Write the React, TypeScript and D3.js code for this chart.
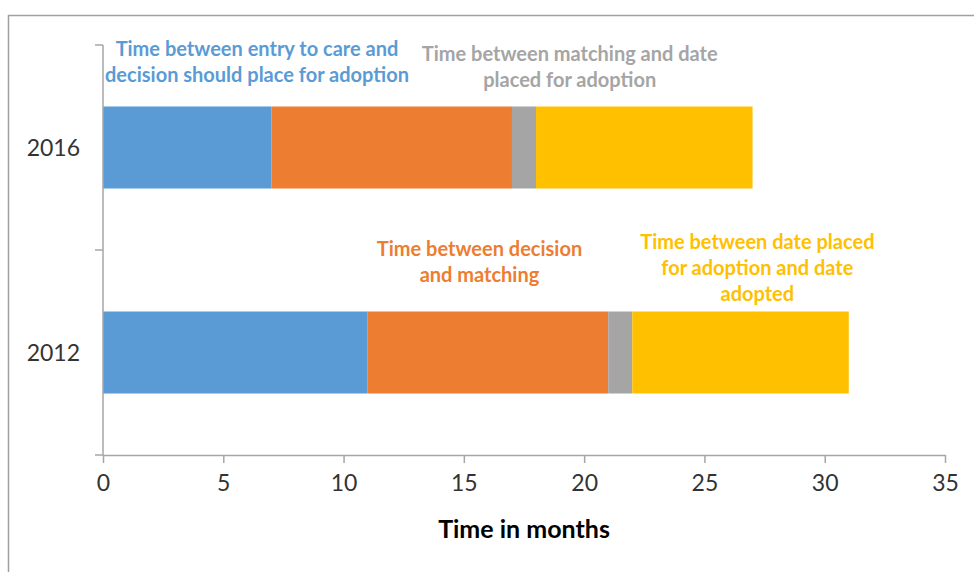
import React, { useEffect, useRef } from "react";
import * as d3 from "d3";

const categories = ["2016", "2012"];
const seriesNames = [
  "Time between entry to care and decision should place for adoption",
  "Time between decision and matching",
  "Time between matching and date placed for adoption",
  "Time between date placed for adoption and date adopted",
];
const entryToDecision = [7, 11];
const decisionToMatching = [10, 10];
const matchingToPlaced = [1, 1];
const placedToAdopted = [9, 9];
const colors = ["#5B9BD5", "#ED7D31", "#A5A5A5", "#FFC000"];
const xTicks = [0, 5, 10, 15, 20, 25, 30, 35];

// label lines and their anchor (x in months, y in px from top)
const labelLines = [
  ["Time between entry to care and", "decision should place for adoption"],
  ["Time between decision", "and matching"],
  ["Time between matching and date", "placed for adoption"],
  ["Time between date placed", "for adoption and date", "adopted"],
];
const labelX = [6.4, 15.65, 19.4, 27.2];
const labelY = [56, 256, 61, 249];

export default function App() {
  const ref = useRef<SVGSVGElement>(null);

  useEffect(() => {
    const svg = d3.select(ref.current);
    svg.selectAll("*").remove();

    const font = "Lato, 'Open Sans', sans-serif";
    const axisColor = "#a6a6a6";

    svg.append("rect")
      .attr("x", 8.5).attr("y", 15.5)
      .attr("width", 1000).attr("height", 600)
      .attr("fill", "white")
      .attr("stroke", "#a0a0a0").attr("stroke-width", 1.5);

    const x = d3.scaleLinear().domain([0, 35]).range([103, 945]);
    const y = d3.scaleBand().domain(categories).range([45, 455])
      .paddingInner(0.6).paddingOuter(0.3);

    const rows = categories.map((c, i) => ({
      cat: c,
      s0: entryToDecision[i],
      s1: decisionToMatching[i],
      s2: matchingToPlaced[i],
      s3: placedToAdopted[i],
    }));
    const stack = d3.stack<any>().keys(["s0", "s1", "s2", "s3"]);
    const layers = stack(rows);

    svg.append("g").selectAll("g")
      .data(layers)
      .join("g")
      .attr("fill", (d, i) => colors[i])
      .selectAll("rect")
      .data(d => d)
      .join("rect")
      .attr("x", d => x(d[0]))
      .attr("width", d => x(d[1]) - x(d[0]))
      .attr("y", d => y(d.data.cat)!)
      .attr("height", y.bandwidth());

    // y axis
    const yLine = svg.append("g");
    yLine.append("line")
      .attr("x1", x(0)).attr("x2", x(0))
      .attr("y1", 45).attr("y2", 455)
      .attr("stroke", axisColor).attr("stroke-width", 1.5);
    const bounds = [45, 45 + y.step(), 455];
    yLine.selectAll(".yt")
      .data(bounds)
      .join("line")
      .attr("x1", x(0) - 8).attr("x2", x(0))
      .attr("y1", d => d).attr("y2", d => d)
      .attr("stroke", axisColor).attr("stroke-width", 1.5);
    yLine.selectAll("text")
      .data(categories)
      .join("text")
      .attr("x", 80)
      .attr("y", d => y(d)! + y.bandwidth() / 2)
      .attr("dy", "0.35em")
      .attr("text-anchor", "end")
      .attr("font-family", font)
      .attr("font-size", 23)
      .attr("fill", "#333")
      .text(d => d);

    // x axis
    const xAxis = d3.axisBottom(x).tickValues(xTicks).tickSize(8).tickPadding(12).tickSizeOuter(0);
    const gx = svg.append("g").attr("transform", "translate(0,455)").call(xAxis);
    gx.select(".domain").attr("stroke", axisColor).attr("stroke-width", 1.5);
    gx.selectAll(".tick line").attr("stroke", axisColor).attr("stroke-width", 1.5);
    gx.selectAll(".tick text")
      .attr("font-family", font)
      .attr("font-size", 23)
      .attr("fill", "#333");

    svg.append("text")
      .attr("x", (x(0) + x(35)) / 2)
      .attr("y", 538)
      .attr("text-anchor", "middle")
      .attr("font-family", font)
      .attr("font-weight", "bold")
      .attr("font-size", 25)
      .attr("fill", "#000")
      .text("Time in months");

    // series labels
    labelLines.forEach((lines, i) => {
      const t = svg.append("text")
        .attr("text-anchor", "middle")
        .attr("font-family", font)
        .attr("font-weight", "bold")
        .attr("font-size", 20)
        .attr("fill", colors[i])
        .attr("aria-label", seriesNames[i]);
      lines.forEach((ln, j) => {
        t.append("tspan")
          .attr("x", x(labelX[i]))
          .attr("y", labelY[i] + j * 26)
          .text(ln);
      });
    });
  }, []);

  return (
    <div style={{ position: "absolute", left: 0, top: 0 }}>
      <svg ref={ref} width={974} height={572} style={{ display: "block" }} />
    </div>
  );
}
